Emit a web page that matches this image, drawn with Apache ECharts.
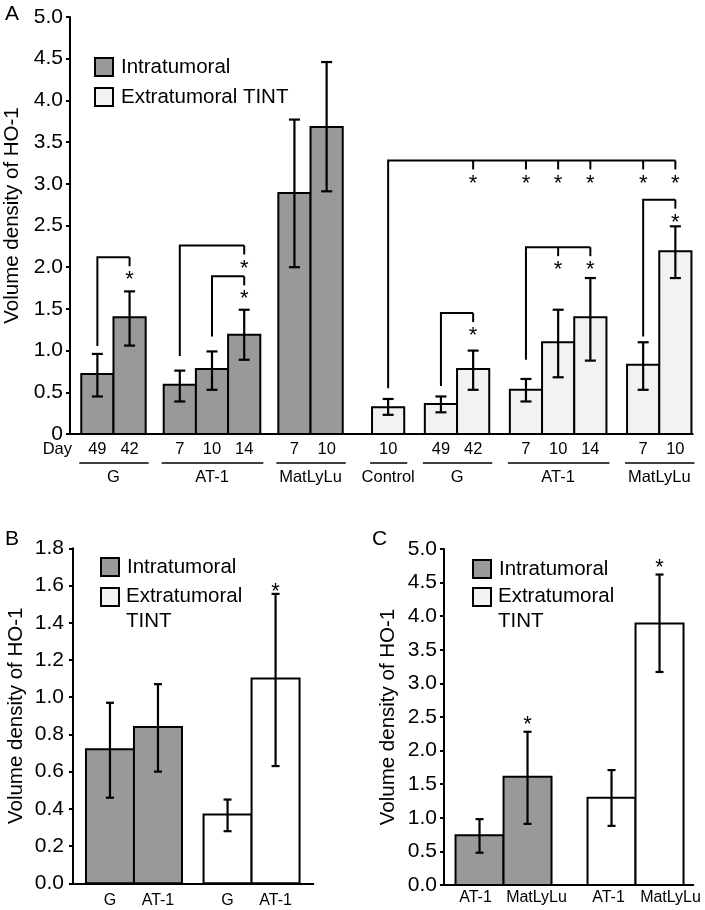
<!DOCTYPE html>
<html>
<head>
<meta charset="utf-8">
<script src="https://cdn.jsdelivr.net/npm/echarts@6/dist/echarts.min.js"></script>
<style>
  html, body { margin: 0; padding: 0; background: #fff; }
  #chart { width: 705px; height: 910px; }
</style>
</head>
<body>
<div id="chart"></div>
<script>
// ---------------- DATA ----------------
const seriesNames = ['Intratumoral', 'Extratumoral TINT'];
const yAxisTitle = 'Volume density of HO-1';

// Panel A
const aIntraGroups = ['G', 'G', 'AT-1', 'AT-1', 'AT-1', 'MatLyLu', 'MatLyLu'];
const aIntraDays = ['49', '42', '7', '10', '14', '7', '10'];
const aIntraMean = [0.72, 1.40, 0.59, 0.78, 1.19, 2.89, 3.68];
const aIntraLow = [0.45, 1.06, 0.39, 0.53, 0.89, 2.00, 2.91];
const aIntraHigh = [0.96, 1.71, 0.76, 0.99, 1.49, 3.77, 4.46];

const aExtraGroups = ['Control', 'G', 'G', 'AT-1', 'AT-1', 'AT-1', 'MatLyLu', 'MatLyLu'];
const aExtraDays = ['10', '49', '42', '7', '10', '14', '7', '10'];
const aExtraMean = [0.32, 0.36, 0.78, 0.53, 1.10, 1.40, 0.83, 2.19];
const aExtraLow = [0.23, 0.26, 0.53, 0.39, 0.68, 0.88, 0.53, 1.87];
const aExtraHigh = [0.42, 0.45, 1.00, 0.66, 1.49, 1.87, 1.10, 2.49];

const aYTicks = [0, 0.5, 1.0, 1.5, 2.0, 2.5, 3.0, 3.5, 4.0, 4.5, 5.0];

// significance brackets (bar indices: intra 0-6, extra 7-14), levels in data units
const aBracketFrom = [0, 2, 3, 7, 8, 10, 13];
const aBracketTo = [[1], [4], [4], [9, 10, 11, 12, 13, 14], [9], [11, 12], [14]];
const aBracketBase = [1.055, 0.935, 1.17, 0.55, 0.575, 0.89, 1.17];
const aBracketTop = [2.12, 2.26, 1.89, 3.28, 1.45, 2.24, 2.81];

// Panel B
const bLabels = ['G', 'AT-1', 'G', 'AT-1'];
const bSide = [0, 0, 1, 1];
const bMean = [0.72, 0.84, 0.37, 1.10];
const bLow = [0.46, 0.60, 0.28, 0.63];
const bHigh = [0.97, 1.07, 0.45, 1.555];
const bSig = [false, false, false, true];
const bYTicks = [0, 0.2, 0.4, 0.6, 0.8, 1.0, 1.2, 1.4, 1.6, 1.8];

// Panel C
const cLabels = ['AT-1', 'MatLyLu', 'AT-1', 'MatLyLu'];
const cSide = [0, 0, 1, 1];
const cMean = [0.74, 1.61, 1.30, 3.89];
const cLow = [0.48, 0.91, 0.88, 3.17];
const cHigh = [0.98, 2.28, 1.71, 4.62];
const cSig = [false, true, false, true];
const cYTicks = [0, 0.5, 1.0, 1.5, 2.0, 2.5, 3.0, 3.5, 4.0, 4.5, 5.0];

// ---------------- STYLE / LAYOUT ----------------
const FONT = 'Liberation Sans, Arial, sans-serif';
const INTRA_FILL = '#999999';
const EXTRA_FILL_A = '#f2f2f2';
const EXTRA_FILL_BC = '#ffffff';
const LEGEND_EXTRA_FILL = '#f2f2f2';
const INK = '#000';

// grid geometry (px)
const gA = { left: 70, top: 17, width: 622.7, height: 417, unit: 32.2 };
const gB = { left: 73, top: 548.3, width: 240.3, height: 335, unit: 48 };
const gC = { left: 444, top: 549, width: 249.3, height: 336, unit: 48 };
// horizontal nudge (px) of the category labels under panel C bars
const cLabelShift = [-4, 9, -3, 11];

// position bars (in bar-width units) from group structure
function layoutGroups(groupLists, start, gaps, sideGap) {
  const xs = [];
  let pos = start;
  groupLists.forEach((groups, s) => {
    if (s > 0) pos += sideGap;
    groups.forEach((g, i) => {
      if (i > 0 && g !== groups[i - 1]) pos += gaps[s];
      xs.push(pos + 0.5);
      pos += 1;
    });
  });
  return xs;
}

const aX = layoutGroups([aIntraGroups, aExtraGroups], 0.35, [0.56, 0.64], 0.91);
const aMean = aIntraMean.concat(aExtraMean);
const aLow = aIntraLow.concat(aExtraLow);
const aHigh = aIntraHigh.concat(aExtraHigh);
const aDays = aIntraDays.concat(aExtraDays);
const aSideAll = aIntraGroups.map(() => 0).concat(aExtraGroups.map(() => 1));

const bX = layoutGroups([bLabels.filter((_, i) => bSide[i] === 0), bLabels.filter((_, i) => bSide[i] === 1)], 0.27, [0, 0], 0.45);
const cX = layoutGroups([cLabels.filter((_, i) => cSide[i] === 0), cLabels.filter((_, i) => cSide[i] === 1)], 0.24, [0, 0], 0.75);

function groupSpans(groups, xs, offset) {
  const spans = [];
  groups.forEach((g, i) => {
    if (i === 0 || g !== groups[i - 1]) spans.push({ name: g, x0: xs[i + offset] - 0.5, x1: xs[i + offset] + 0.5 });
    else spans[spans.length - 1].x1 = xs[i + offset] + 0.5;
  });
  return spans;
}
const aSpans = groupSpans(aIntraGroups, aX, 0).concat(groupSpans(aExtraGroups, aX, aIntraGroups.length));

// ---------------- SERIES BUILDERS ----------------
function barSeries(name, gi, xs, means, sides, sideWanted, fill) {
  const data = [];
  xs.forEach((x, i) => { if (sides[i] === sideWanted) data.push([x, means[i]]); });
  return {
    name: name, type: 'custom', xAxisIndex: gi, yAxisIndex: gi,
    itemStyle: { color: fill, borderColor: INK, borderWidth: 2 },
    encode: { x: 0, y: 1 },
    data: data,
    renderItem: function (params, api) {
      const x = api.value(0), v = api.value(1);
      const a = api.coord([x - 0.5, v]);
      const b = api.coord([x + 0.5, 0]);
      return {
        type: 'rect',
        shape: { x: a[0], y: a[1], width: b[0] - a[0], height: b[1] - a[1] },
        style: { fill: fill, stroke: INK, lineWidth: 2 }
      };
    }
  };
}

function errorSeries(gi, xs, lows, highs, capHalf) {
  return {
    type: 'custom', xAxisIndex: gi, yAxisIndex: gi, silent: true, z: 5,
    encode: { x: 0, y: [1, 2] },
    data: xs.map((x, i) => [x, lows[i], highs[i]]),
    renderItem: function (params, api) {
      const x = api.value(0);
      const lo = api.coord([x, api.value(1)]);
      const hi = api.coord([x, api.value(2)]);
      const st = { stroke: INK, lineWidth: 2.2 };
      return {
        type: 'group', children: [
          { type: 'line', shape: { x1: lo[0], y1: lo[1], x2: hi[0], y2: hi[1] }, style: st },
          { type: 'line', shape: { x1: lo[0] - capHalf, y1: lo[1], x2: lo[0] + capHalf, y2: lo[1] }, style: st },
          { type: 'line', shape: { x1: hi[0] - capHalf, y1: hi[1], x2: hi[0] + capHalf, y2: hi[1] }, style: st }
        ]
      };
    }
  };
}

function starText(x, y) {
  return {
    type: 'text',
    style: { text: '*', x: x, y: y, align: 'center', verticalAlign: 'middle', font: '22px ' + FONT, fill: INK }
  };
}

function sigStarSeries(gi, xs, highs, sig, offPx) {
  const data = [];
  xs.forEach((x, i) => { if (sig[i]) data.push([x, highs[i]]); });
  return {
    type: 'custom', xAxisIndex: gi, yAxisIndex: gi, silent: true, z: 6,
    encode: { x: 0, y: 1 }, data: data,
    renderItem: function (params, api) {
      const p = api.coord([api.value(0), api.value(1)]);
      return starText(p[0], p[1] - offPx);
    }
  };
}

const bracketSeries = {
  type: 'custom', xAxisIndex: 0, yAxisIndex: 0, silent: true, z: 6,
  encode: { x: 0, y: 1 },
  data: aBracketFrom.map((f, i) => [aX[f], aBracketTop[i]]),
  renderItem: function (params, api) {
    const i = params.dataIndex;
    const st = { stroke: INK, lineWidth: 2, fill: null };
    const fx = aX[aBracketFrom[i]];
    const base = api.coord([fx, aBracketBase[i]]);
    const top = api.coord([fx, aBracketTop[i]]);
    const tos = aBracketTo[i];
    const lastTop = api.coord([aX[tos[tos.length - 1]], aBracketTop[i]]);
    const children = [
      { type: 'polyline', shape: { points: [[base[0], base[1]], [top[0], top[1]], [lastTop[0], lastTop[1]]] }, style: st }
    ];
    tos.forEach(t => {
      const p = api.coord([aX[t], aBracketTop[i]]);
      children.push({ type: 'line', shape: { x1: p[0], y1: p[1], x2: p[0], y2: p[1] + 9 }, style: st });
      children.push(starText(p[0], p[1] + 23));
    });
    return { type: 'group', children: children };
  }
};

const dayLabelSeries = {
  type: 'custom', xAxisIndex: 0, yAxisIndex: 0, silent: true,
  encode: { x: 0, y: 1 },
  data: aX.map(x => [x, 0]),
  renderItem: function (params, api) {
    const p = api.coord([api.value(0), 0]);
    return {
      type: 'text',
      style: { text: aDays[params.dataIndex], x: p[0], y: p[1] + 15, align: 'center', verticalAlign: 'middle', font: '16.5px ' + FONT, fill: INK }
    };
  }
};

const groupLineSeries = {
  type: 'custom', xAxisIndex: 0, yAxisIndex: 0, silent: true,
  encode: { x: [0, 1], y: 2 },
  data: aSpans.map(s => [s.x0, s.x1, 0]),
  renderItem: function (params, api) {
    const a = api.coord([api.value(0), 0]);
    const b = api.coord([api.value(1), 0]);
    return {
      type: 'group', children: [
        { type: 'line', shape: { x1: a[0] - 2, y1: a[1] + 29, x2: b[0] + 3, y2: b[1] + 29 }, style: { stroke: INK, lineWidth: 1.6 } },
        { type: 'text', style: { text: aSpans[params.dataIndex].name, x: (a[0] + b[0]) / 2, y: a[1] + 43, align: 'center', verticalAlign: 'middle', font: '16.5px ' + FONT, fill: INK } }
      ]
    };
  }
};

function xLabelSeries(gi, xs, labels, offPx, shifts) {
  return {
    type: 'custom', xAxisIndex: gi, yAxisIndex: gi, silent: true,
    encode: { x: 0, y: 1 },
    data: xs.map(x => [x, 0]),
    renderItem: function (params, api) {
      const p = api.coord([api.value(0), 0]);
      const dx = shifts ? shifts[params.dataIndex] : 0;
      return {
        type: 'text',
        style: { text: labels[params.dataIndex], x: p[0] + dx, y: p[1] + offPx, align: 'center', verticalAlign: 'middle', font: '16px ' + FONT, fill: INK }
      };
    }
  };
}

// ---------------- AXES ----------------
function xAxisFor(gi, g) {
  return {
    gridIndex: gi, type: 'value', min: 0, max: g.width / g.unit,
    axisLine: { show: true, onZero: false, lineStyle: { color: INK, width: 2 } },
    axisTick: { show: false }, axisLabel: { show: false }, splitLine: { show: false }
  };
}
function yAxisFor(gi, ticks, fmt, nameGap, pad, labelMargin) {
  return {
    gridIndex: gi, type: 'value', min: ticks[0], max: ticks[ticks.length - 1], interval: ticks[1] - ticks[0],
    name: yAxisTitle, nameLocation: 'middle', nameGap: nameGap,
    nameTextStyle: { fontFamily: FONT, fontSize: 20.5, color: INK, padding: pad },
    axisLine: { show: true, lineStyle: { color: INK, width: 2 } },
    axisTick: { show: true, length: 4, lineStyle: { color: INK, width: 2 } },
    axisLabel: { fontFamily: FONT, fontSize: 21, color: INK, margin: labelMargin, formatter: fmt },
    splitLine: { show: false }
  };
}

// ---------------- LEGENDS (graphic) ----------------
function legendGraphic(x, y1, y2, twoLine) {
  const f = '20.5px ' + FONT;
  const els = [
    { type: 'rect', left: x, top: y1, shape: { width: 18, height: 18 }, style: { fill: INTRA_FILL, stroke: INK, lineWidth: 2 } },
    { type: 'rect', left: x, top: y2, shape: { width: 18, height: 18 }, style: { fill: LEGEND_EXTRA_FILL, stroke: INK, lineWidth: 2 } },
    { type: 'text', x: x + 27, y: y1 + 10, style: { text: seriesNames[0], font: f, fill: INK, verticalAlign: 'middle' } }
  ];
  if (twoLine) {
    const parts = seriesNames[1].split(' ');
    els.push({ type: 'text', x: x + 26, y: y2 + 9, style: { text: parts[0], font: f, fill: INK, verticalAlign: 'middle' } });
    els.push({ type: 'text', x: x + 26, y: y2 + 34, style: { text: parts[1], font: f, fill: INK, verticalAlign: 'middle' } });
  } else {
    els.push({ type: 'text', x: x + 27, y: y2 + 10, style: { text: seriesNames[1], font: f, fill: INK, verticalAlign: 'middle' } });
  }
  return els;
}

const fmtA = v => (v === 0 ? '0' : v.toFixed(1));
const fmt1 = v => v.toFixed(1);

const option = {
  animation: false,
  backgroundColor: '#fff',
  grid: [
    { left: gA.left, top: gA.top, width: gA.width, height: gA.height, containLabel: false, outerBoundsMode: 'none' },
    { left: gB.left, top: gB.top, width: gB.width, height: gB.height, containLabel: false, outerBoundsMode: 'none' },
    { left: gC.left, top: gC.top, width: gC.width, height: gC.height, containLabel: false, outerBoundsMode: 'none' }
  ],
  xAxis: [xAxisFor(0, gA), xAxisFor(1, gB), xAxisFor(2, gC)],
  yAxis: [
    yAxisFor(0, aYTicks, fmtA, 40, [0, 0, 0, 20], 7),
    yAxisFor(1, bYTicks, fmt1, 46, [0, 0, 0, 0], 9),
    yAxisFor(2, cYTicks, fmt1, 45, [0, 0, 0, 0], 7)
  ],
  graphic: [
    { type: 'text', left: 5, top: 4, style: { text: 'A', font: '21px ' + FONT, fill: INK } },
    { type: 'text', left: 5, top: 529, style: { text: 'B', font: '21px ' + FONT, fill: INK } },
    { type: 'text', left: 372, top: 529, style: { text: 'C', font: '21px ' + FONT, fill: INK } },
    { type: 'text', x: 72, y: 449, style: { text: 'Day', font: '16.5px ' + FONT, fill: INK, align: 'right', verticalAlign: 'middle' } }
  ].concat(legendGraphic(94, 57, 87, false))
   .concat(legendGraphic(100, 557, 587, true))
   .concat(legendGraphic(472, 559, 587, true)),
  series: [
    barSeries(seriesNames[0], 0, aX, aMean, aSideAll, 0, INTRA_FILL),
    barSeries(seriesNames[1], 0, aX, aMean, aSideAll, 1, EXTRA_FILL_A),
    errorSeries(0, aX, aLow, aHigh, 5.5),
    bracketSeries,
    dayLabelSeries,
    groupLineSeries,

    barSeries(seriesNames[0], 1, bX, bMean, bSide, 0, INTRA_FILL),
    barSeries(seriesNames[1], 1, bX, bMean, bSide, 1, EXTRA_FILL_BC),
    errorSeries(1, bX, bLow, bHigh, 4),
    sigStarSeries(1, bX, bHigh, bSig, 2),
    xLabelSeries(1, bX, bLabels, 17, null),

    barSeries(seriesNames[0], 2, cX, cMean, cSide, 0, INTRA_FILL),
    barSeries(seriesNames[1], 2, cX, cMean, cSide, 1, EXTRA_FILL_BC),
    errorSeries(2, cX, cLow, cHigh, 4),
    sigStarSeries(2, cX, cHigh, cSig, 7),
    xLabelSeries(2, cX, cLabels, 13, cLabelShift)
  ]
};

const chart = echarts.init(document.getElementById('chart'), null, { renderer: 'canvas' });
chart.setOption(option);
</script>
</body>
</html>
